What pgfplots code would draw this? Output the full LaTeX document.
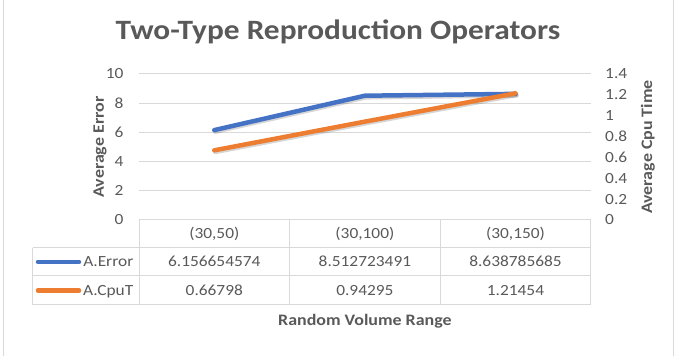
\documentclass[border=0pt]{standalone}
\usepackage{pgfplots}
\pgfplotsset{compat=1.18}
\usepackage{fontspec}
\setmainfont{Carlito}[FakeStretch=1.12]

\definecolor{txtgray}{HTML}{595959}
\definecolor{gridgray}{HTML}{D9D9D9}
\definecolor{errblue}{HTML}{4472C4}
\definecolor{cpuorange}{HTML}{ED7D31}

\pgfplotsset{
  chartbase/.style={
    at={(axorig)}, anchor=south west,
    scale only axis, width=451.7pt, height=146pt,
    xmin=-0.5, xmax=2.5, xtick=\empty,
    axis line style={draw=none},
    major tick length=0pt,
    tick label style={font=\fontsize{15.5}{18}\selectfont, text=txtgray},
    /pgf/number format/assume math mode=true,
    label style={font=\fontsize{16}{19}\selectfont\bfseries, text=txtgray},
    clip=false,
  },
  series/.style={line width=4.5pt, line cap=round, line join=round, mark=none},
  shade/.style={line width=4.5pt, line cap=round, line join=round, mark=none,
    black, opacity=0.16, transform canvas={xshift=1pt, yshift=-1.6pt}},
}

\begin{document}
\begin{tikzpicture}[x=1pt, y=1pt]
\useasboundingbox (0,0) rectangle (683,356);
\coordinate (axorig) at (139,136);
% chart frame
\draw[gridgray, line width=1pt] (3,0) -- (3,356);
\draw[gridgray, line width=1pt] (673,0) -- (673,356);

% title
\node[anchor=base, text=txtgray, font=\fontsize{28}{32}\selectfont\bfseries]
  at (338,316.7) {Two-Type Reproduction Operators};

% primary axis: average error
\begin{axis}[chartbase,
  ymin=0, ymax=10, ytick={0,2,4,6,8,10},
  ymajorgrids, grid style={gridgray, line width=1pt},
  yticklabel style={xshift=-12pt},
  ylabel={Average Error},
  ylabel style={at={(rel axis cs:-0.0863,0.5)}, anchor=center},
]
\addplot[shade] coordinates {(0,6.156654574) (1,8.512723491) (2,8.638785685)};
\addplot[series, errblue] coordinates {(0,6.156654574) (1,8.512723491) (2,8.638785685)};
\end{axis}

% secondary axis: average cpu time
\begin{axis}[chartbase,
  ymin=0, ymax=1.4, ytick={0,0.2,0.4,0.6,0.8,1,1.2,1.4},
  axis y line*=right,
  yticklabel style={xshift=11pt},
  ylabel={Average Cpu Time},
  ylabel style={at={(rel axis cs:1.1265,0.5)}, anchor=center},
]
\addplot[shade] coordinates {(0,0.66798) (1,0.94295) (2,1.21454)};
\addplot[series, cpuorange] coordinates {(0,0.66798) (1,0.94295) (2,1.21454)};
\end{axis}

% data table below the plot
\begin{scope}[gridgray, line width=1pt]
  \draw (139,136) -- (590.7,136);
  \draw (32.7,108.3) -- (590.7,108.3);
  \draw (32.7,80) -- (590.7,80);
  \draw (32.7,51) -- (590.7,51);
  \draw (32.7,108.3) -- (32.7,51);
  \foreach \xx in {139,289.6,440.2,590.7} \draw (\xx,136) -- (\xx,51);
\end{scope}
\begin{scope}[every node/.style={anchor=base, text=txtgray, font=\fontsize{15.5}{18}\selectfont, inner sep=0pt}]
  \node at (214.3,117.2) {(30,50)};
  \node at (364.9,117.2) {(30,100)};
  \node at (515.5,117.2) {(30,150)};
  \node[anchor=base east] at (133.5,89.2) {A.Error};
  \node[anchor=base east] at (133.5,60.5) {A.CpuT};
  \node at (214.3,89.2) {6.156654574};
  \node at (364.9,89.2) {8.512723491};
  \node at (515.5,89.2) {8.638785685};
  \node at (214.3,60.5) {0.66798};
  \node at (364.9,60.5) {0.94295};
  \node at (515.5,60.5) {1.21454};
\end{scope}
\draw[errblue, line width=4.5pt, line cap=round] (38,94.2) -- (79,94.2);
\draw[cpuorange, line width=4.5pt, line cap=round] (38,65.5) -- (79,65.5);

% x axis title
\node[anchor=base, text=txtgray, font=\fontsize{16}{19}\selectfont\bfseries]
  at (364.9,30.3) {Random Volume Range};
\end{tikzpicture}
\end{document}
